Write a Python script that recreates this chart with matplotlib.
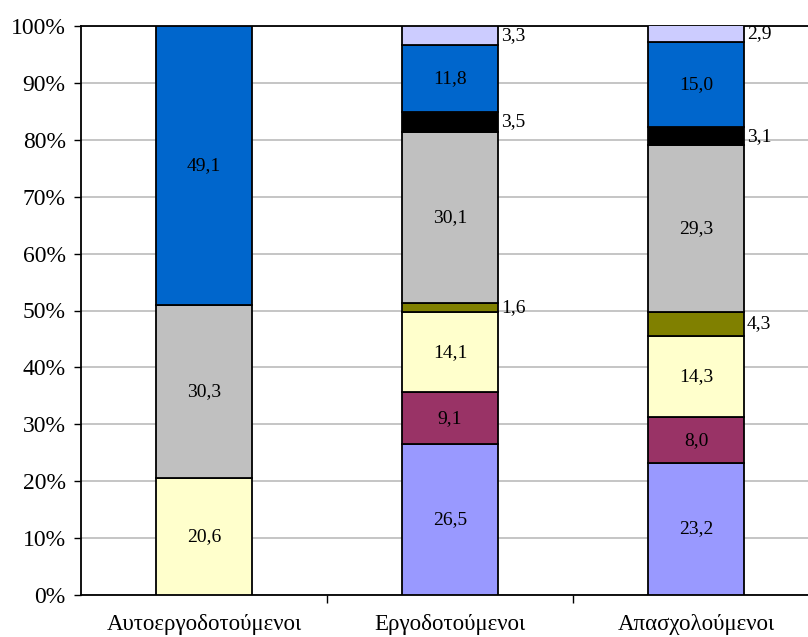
import matplotlib
matplotlib.use("Agg")
import matplotlib.pyplot as plt
import numpy as np

plt.rcParams['font.family'] = ['Liberation Serif', 'DejaVu Serif']

categories = ["Αυτοεργοδοτούμενοι", "Εργοδοτούμενοι", "Απασχολούμενοι"]
s1 = [0, 26.5, 23.2]
s2 = [0, 9.1, 8.0]
s3 = [20.6, 14.1, 14.3]
s4 = [0, 1.6, 4.3]
s5 = [30.3, 30.1, 29.3]
s6 = [0, 3.5, 3.1]
s7 = [49.1, 11.8, 15.0]
s8 = [0, 3.3, 2.9]
series = [s1, s2, s3, s4, s5, s6, s7, s8]
colors = ["#9999FF", "#993366", "#FFFFCC", "#808000", "#C0C0C0", "#000000", "#0066CC", "#CCCCFF"]
yticklabels = ["0%", "10%", "20%", "30%", "40%", "50%", "60%", "70%", "80%", "90%", "100%"]

fig = plt.figure(figsize=(8.08, 6.37), dpi=100)
ax = fig.add_axes([81/808, 1-595/637, (819-81)/808, (595-26)/637])

x = np.arange(len(categories))
width = 0.39
bottom = np.zeros(len(categories))
for vals, col in zip(series, colors):
    vals = np.array(vals, dtype=float)
    for i in range(len(categories)):
        v = vals[i]
        if v <= 0:
            continue
        ax.bar(x[i], v, width, bottom=bottom[i], color=col, edgecolor="black",
               linewidth=1.3, zorder=3)
        yc = bottom[i] + v / 2
        if v >= 5:
            ax.text(x[i], yc, f"{v:.1f}".replace(".", ","), ha="center", va="center",
                    fontsize=14, color="black", zorder=4)
        else:
            ax.text(x[i] + width / 2 + 0.012, yc, f"{v:.1f}".replace(".", ","),
                    ha="left", va="center", fontsize=14, color="black", zorder=4)
    bottom += vals

ax.set_xlim(-0.5, 2.5)
ax.set_ylim(0, 100)
ax.set_yticks(np.arange(0, 101, 10))
ax.set_yticklabels(yticklabels, fontsize=17)
ax.yaxis.grid(True, color="#C0C0C0", linewidth=1.3, zorder=0)
ax.set_axisbelow(True)

ax.set_xticks(x)
ax.set_xticklabels(categories, fontsize=16.5)
ax.set_xticks([0.5, 1.5], minor=True)
ax.tick_params(axis="x", which="major", length=0, pad=14)
ax.tick_params(axis="x", which="minor", length=6, width=1, color="black")
ax.tick_params(axis="y", length=5, width=1, color="black", pad=6)

for sp in ax.spines.values():
    sp.set_color("black")
    sp.set_linewidth(1.3)

fig.savefig("out.png", dpi=100)
